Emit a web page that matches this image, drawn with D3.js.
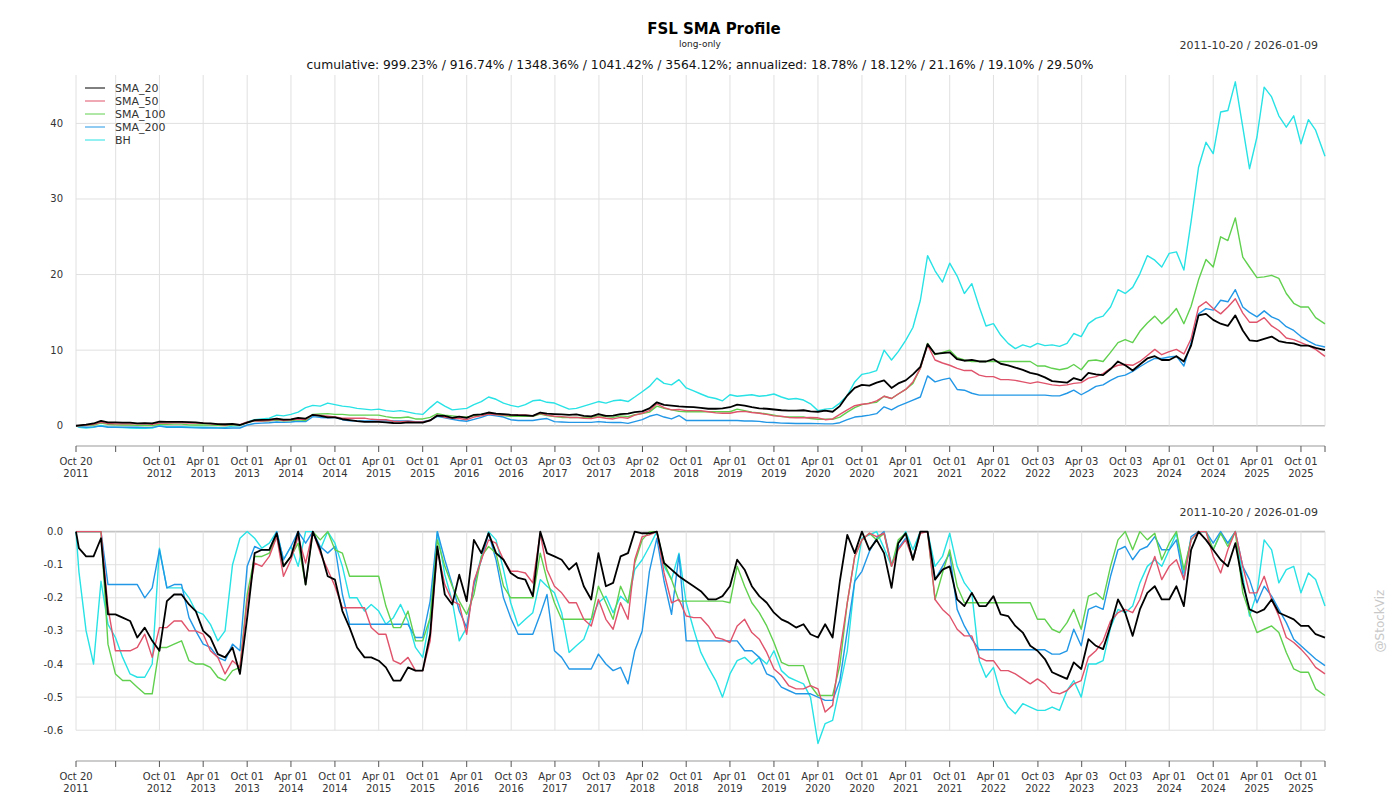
<!DOCTYPE html>
<html>
<head>
<meta charset="utf-8">
<title>FSL SMA Profile</title>
<script src="https://cdn.jsdelivr.net/npm/d3@7"></script>
<style>
  body { margin: 0; background: #fff; }
  svg { font-family: "DejaVu Sans", sans-serif; }
</style>
</head>
<body>
<div id="chart"></div>
<script>

// Series read off the reference, sampled monthly:
// 2011-10-20, then the 1st of each month Nov 2011 .. Dec 2025, then 2026-01-09

const seriesNames = ["SMA_20", "SMA_50", "SMA_100", "SMA_200", "BH"];

// cumulative return (1 = +100%)
const cumSMA20 = [
    0, 0.05, 0.15,
    0.3, 0.65, 0.45, 0.45, 0.42, 0.4, 0.3, 0.35, 0.3, 0.55, 0.5, 0.52,
    0.52, 0.48, 0.45, 0.35, 0.3, 0.22, 0.2, 0.25, 0.1, 0.4, 0.75, 0.78,
    0.82, 0.95, 0.8, 0.85, 1.05, 0.95, 1.45, 1.3, 1.1, 1.1, 0.86, 0.75,
    0.6, 0.52, 0.52, 0.5, 0.45, 0.36, 0.35, 0.45, 0.42, 0.42, 0.7, 1.35,
    1.3, 1.05, 1.2, 1.05, 1.45, 1.5, 1.75, 1.6, 1.55, 1.45, 1.4, 1.38,
    1.3, 1.75, 1.6, 1.55, 1.5, 1.45, 1.5, 1.3, 1.25, 1.55, 1.3, 1.35,
    1.55, 1.6, 1.8, 1.9, 2.3, 3.1, 2.75, 2.65, 2.55, 2.5, 2.45, 2.35,
    2.25, 2.25, 2.3, 2.45, 2.8, 2.65, 2.45, 2.3, 2.25, 2.15, 2.05, 2.0,
    2.0, 2.05, 1.9, 1.85, 2.0, 1.85, 2.6, 4.0, 5.0, 5.4, 5.3, 5.7,
    6.0, 5.0, 5.6, 6.0, 6.8, 7.8, 10.8, 9.5, 9.6, 9.7, 8.8, 8.6,
    8.7, 8.5, 8.5, 8.8, 8.2, 8.0, 7.7, 7.4, 7.0, 6.8, 6.4, 5.9,
    5.8, 5.7, 6.3, 6.0, 7.0, 6.8, 6.7, 7.5, 8.5, 8.0, 7.3, 8.1,
    8.9, 9.2, 8.7, 8.7, 9.2, 8.5, 10.6, 14.6, 14.8, 14.0, 13.5, 13.2,
    14.6, 12.6, 11.3, 11.2, 11.5, 11.8, 11.2, 11.0, 10.9, 10.6, 10.6, 10.3,
    9.99
];

const cumSMA50 = [
    0, 0, 0.1,
    0.2, 0.45, 0.3, 0.25, 0.25, 0.25, 0.25, 0.3, 0.2, 0.35, 0.35, 0.38,
    0.38, 0.35, 0.35, 0.33, 0.25, 0.2, 0.1, 0.18, 0.15, 0.5, 0.65, 0.62,
    0.7, 0.85, 0.7, 0.8, 0.9, 0.85, 1.45, 1.35, 1.25, 1.15, 1.0, 1.0,
    1.0, 1.0, 0.85, 0.8, 0.8, 0.6, 0.55, 0.6, 0.5, 0.5, 0.7, 1.4,
    1.1, 1.0, 0.95, 0.8, 1.15, 1.3, 1.55, 1.45, 1.4, 1.4, 1.42, 1.42,
    1.3, 1.65, 1.4, 1.25, 1.2, 1.1, 1.1, 1.0, 0.95, 1.15, 1.0, 0.9,
    1.1, 1.0, 1.4, 1.65, 2.0, 2.9, 2.4, 2.1, 2.15, 2.0, 2.0, 2.0,
    1.85, 1.7, 1.65, 1.65, 1.85, 1.9, 1.75, 1.65, 1.5, 1.3, 1.25, 1.1,
    1.05, 1.05, 1.1, 1.05, 0.8, 0.9, 1.5, 2.1, 2.65, 2.85, 2.95, 3.3,
    3.9, 3.6, 4.2, 4.8, 5.8, 7.6, 10.7, 8.7, 8.3, 8.0, 7.6, 7.3,
    7.3, 6.7, 6.5, 6.5, 6.1, 6.1, 6.0, 5.8, 5.6, 5.8, 5.6, 5.4,
    5.3, 5.4, 5.6, 5.7, 6.3, 6.5, 6.9, 7.6, 8.0, 8.1, 8.0, 8.5,
    9.3, 10.1, 9.4, 9.8, 10.1, 9.5, 11.5, 15.7, 16.4, 15.5, 14.8, 15.7,
    16.8, 14.9, 13.7, 13.7, 14.3, 13.2, 12.6, 11.6, 11.4, 11.0, 10.6, 10.1,
    9.17
];

const cumSMA100 = [
    0, 0, 0.05,
    0.1, 0.35, 0.2, 0.12, 0.1, 0.1, 0.05, 0.03, 0.02, 0.2, 0.2, 0.22,
    0.22, 0.12, 0.1, 0.1, 0.08, 0.05, 0.04, 0.08, 0.1, 0.45, 0.62, 0.62,
    0.65, 0.75, 0.65, 0.7, 0.8, 0.7, 1.5, 1.55, 1.6, 1.5, 1.5, 1.4,
    1.4, 1.4, 1.4, 1.4, 1.2, 1.05, 1.05, 1.15, 0.9, 0.9, 1.1, 1.6,
    1.4, 1.3, 1.2, 1.15, 1.3, 1.5, 1.65, 1.5, 1.35, 1.25, 1.25, 1.25,
    1.25, 1.55, 1.35, 1.2, 1.1, 1.1, 1.1, 1.1, 1.1, 1.3, 1.2, 1.1,
    1.3, 1.2, 1.45, 1.6, 1.8, 2.6, 2.3, 2.1, 1.9, 1.85, 1.85, 1.85,
    1.85, 1.85, 1.85, 1.85, 2.2, 2.0, 1.8, 1.7, 1.55, 1.4, 1.2, 1.15,
    1.15, 1.15, 0.95, 0.85, 0.85, 0.85, 1.15, 1.8, 2.4, 2.8, 3.0, 3.1,
    3.9, 3.6, 4.2, 4.8, 5.6, 7.6, 10.9, 9.4, 9.7, 10.0, 9.0, 8.7,
    8.5, 8.5, 8.5, 8.5, 8.5, 8.5, 8.5, 8.5, 8.5, 7.9, 7.9, 7.6,
    7.4, 7.6, 8.1, 7.4, 8.6, 8.7, 8.5, 9.7, 11.0, 11.4, 11.0, 12.5,
    13.6, 14.5, 13.5, 14.4, 15.5, 13.5, 15.8, 19.3, 22.0, 21.0, 25.0, 24.5,
    27.5, 22.3, 21.0, 19.6, 19.7, 19.9, 19.5, 17.5, 16.2, 15.7, 15.7, 14.3,
    13.48
];

const cumSMA200 = [
    0, -0.1, -0.2,
    -0.15, -0.05, -0.2, -0.2, -0.2, -0.2, -0.2, -0.25, -0.22, -0.05, -0.2, -0.18,
    -0.2, -0.25, -0.28, -0.3, -0.3, -0.32, -0.33, -0.3, -0.3, 0.1, 0.3, 0.35,
    0.4, 0.5, 0.45, 0.5, 0.6, 0.55, 1.2, 1.1, 1.05, 1.1, 0.8, 0.65,
    0.65, 0.65, 0.65, 0.65, 0.65, 0.65, 0.65, 0.65, 0.55, 0.55, 0.75, 1.25,
    1.05, 0.85, 0.7, 0.6, 0.85, 1.1, 1.45, 1.3, 1.15, 0.8, 0.7, 0.7,
    0.7, 0.85, 0.95, 0.55, 0.5, 0.45, 0.45, 0.45, 0.45, 0.55, 0.47, 0.42,
    0.45, 0.32, 0.55, 0.8, 1.25, 1.5, 1.15, 0.9, 1.35, 0.7, 0.7, 0.7,
    0.7, 0.7, 0.7, 0.7, 0.7, 0.63, 0.63, 0.58, 0.45, 0.43, 0.35, 0.33,
    0.3, 0.3, 0.3, 0.28, 0.25, 0.25, 0.4, 0.8, 1.15, 1.25, 1.4, 1.6,
    2.5, 2.1, 2.6, 3.0, 3.4, 3.8, 6.6, 5.8, 6.1, 6.3, 4.8, 4.7,
    4.3, 4.05, 4.05, 4.05, 4.05, 4.05, 4.05, 4.05, 4.05, 4.05, 4.05, 3.95,
    3.95, 4.3, 4.7, 4.1, 4.6, 5.2, 5.4, 6.0, 6.5, 6.7, 7.2, 7.8,
    8.4, 8.9, 8.9, 9.1, 9.2, 7.9, 11.0, 14.8, 15.5, 15.3, 16.6, 16.4,
    18.0, 15.7, 15.0, 14.4, 15.2, 14.4, 14.0, 13.1, 12.6, 11.8, 11.2, 10.7,
    10.41
];

const cumBH = [
    0, -0.2, -0.3,
    -0.2, 0.05, -0.15, -0.2, -0.25, -0.3, -0.35, -0.35, -0.3, 0.0, -0.12, -0.12,
    -0.12, -0.15, -0.2, -0.2, -0.22, -0.25, -0.25, -0.05, 0.0, 0.5, 0.8, 0.9,
    1.0, 1.4, 1.3, 1.5, 1.8, 2.4, 2.7, 2.6, 3.0, 2.8, 2.6, 2.5,
    2.3, 2.2, 2.1, 2.2, 2.0, 1.9, 2.0, 1.8, 1.6, 1.5, 2.4, 3.2,
    2.6, 2.1, 2.2, 2.3, 2.8, 3.2, 3.8, 3.5, 3.0, 2.7, 2.5, 2.8,
    3.3, 3.4, 3.1, 3.0, 2.6, 2.2, 2.3, 2.6, 2.9, 3.2, 3.0, 3.3,
    3.4, 3.2, 3.8, 4.5, 5.2, 6.3, 5.6, 5.4, 6.1, 5.0, 4.6, 4.2,
    3.8, 3.6, 3.3, 4.1, 3.9, 4.0, 4.1, 3.9, 4.0, 4.2, 3.8, 3.5,
    3.6, 3.4, 2.9, 2.0, 2.2, 2.3, 3.0, 4.0, 5.8, 6.8, 7.0, 7.3,
    10.0, 8.7, 9.8, 11.3, 13.0, 16.6, 22.5, 20.5, 19.0, 21.5, 19.8, 17.5,
    18.8, 15.7, 13.2, 13.5, 12.0, 10.9, 10.2, 10.7, 10.4, 10.9, 10.6, 10.7,
    10.5, 10.9, 12.2, 11.8, 13.5, 14.2, 14.5, 15.7, 18.0, 17.5, 18.3, 20.1,
    22.5, 21.9, 21.0, 22.8, 23.0, 20.6, 27.0, 34.2, 37.5, 36.0, 41.5, 41.7,
    45.5, 39.5, 34.0, 38.2, 44.8, 43.5, 41.0, 39.5, 41.0, 37.3, 40.5, 39.1,
    35.64
];

// drawdown from running peak
const ddSMA20 = [
    0, -0.05, -0.075,
    -0.075, -0.02, -0.25, -0.25, -0.26, -0.27, -0.32, -0.29, -0.33, -0.36, -0.21, -0.19,
    -0.19, -0.22, -0.24, -0.30, -0.32, -0.37, -0.38, -0.35, -0.43, -0.26, -0.065, -0.055,
    -0.055, -0.005, -0.105, -0.075, 0, -0.16, 0, -0.055, -0.135, -0.145, -0.24, -0.29,
    -0.35, -0.38, -0.38, -0.39, -0.41, -0.45, -0.45, -0.41, -0.42, -0.42, -0.31, -0.045,
    -0.19, -0.22, -0.13, -0.21, -0.025, -0.065, -0.005, -0.065, -0.085, -0.125, -0.14, -0.145,
    -0.195, 0, -0.065, -0.075, -0.085, -0.115, -0.095, -0.165, -0.205, -0.065, -0.165, -0.155,
    -0.075, -0.065, 0, -0.005, -0.005, 0, -0.095, -0.115, -0.135, -0.15, -0.165, -0.18,
    -0.205, -0.205, -0.195, -0.165, -0.085, -0.115, -0.165, -0.195, -0.215, -0.245, -0.265, -0.275,
    -0.29, -0.28, -0.31, -0.32, -0.28, -0.32, -0.15, -0.01, -0.065, 0, -0.055, -0.025,
    -0.065, -0.17, -0.035, -0.005, -0.085, 0, 0, -0.145, -0.115, -0.105, -0.205, -0.225,
    -0.185, -0.225, -0.225, -0.195, -0.25, -0.255, -0.285, -0.305, -0.345, -0.36, -0.385, -0.425,
    -0.435, -0.445, -0.395, -0.415, -0.325, -0.345, -0.355, -0.285, -0.205, -0.245, -0.315, -0.235,
    -0.185, -0.165, -0.205, -0.205, -0.165, -0.225, -0.055, 0, -0.025, -0.055, -0.085, -0.105,
    -0.035, -0.155, -0.235, -0.245, -0.235, -0.205, -0.245, -0.255, -0.265, -0.285, -0.285, -0.31,
    -0.32
];

const ddSMA50 = [
    0, 0, 0,
    0, 0, -0.23, -0.36, -0.36, -0.36, -0.35, -0.31, -0.38, -0.29, -0.29, -0.27,
    -0.27, -0.30, -0.30, -0.31, -0.36, -0.38, -0.43, -0.39, -0.41, -0.21, -0.095, -0.105,
    -0.075, -0.015, -0.135, -0.085, -0.015, -0.095, 0, -0.065, -0.115, -0.165, -0.23, -0.23,
    -0.23, -0.23, -0.29, -0.31, -0.31, -0.39, -0.40, -0.38, -0.42, -0.42, -0.33, -0.055,
    -0.16, -0.21, -0.22, -0.31, -0.15, -0.085, -0.025, -0.035, -0.085, -0.12, -0.12, -0.125,
    -0.155, -0.005, -0.115, -0.165, -0.185, -0.215, -0.215, -0.265, -0.285, -0.205, -0.265, -0.295,
    -0.215, -0.265, -0.085, -0.015, -0.01, 0, -0.125, -0.215, -0.205, -0.255, -0.26, -0.26,
    -0.285, -0.32, -0.325, -0.335, -0.285, -0.265, -0.305, -0.325, -0.365, -0.415, -0.435, -0.465,
    -0.475, -0.475, -0.465, -0.475, -0.545, -0.525, -0.365, -0.215, -0.075, -0.025, -0.005, -0.015,
    -0.005, -0.105, -0.055, -0.025, -0.085, -0.005, 0, -0.205, -0.235, -0.255, -0.295, -0.315,
    -0.315, -0.38, -0.39, -0.39, -0.42, -0.42, -0.43, -0.445, -0.46, -0.445, -0.46, -0.485,
    -0.49, -0.48, -0.46, -0.45, -0.38, -0.36, -0.33, -0.27, -0.245, -0.235, -0.245, -0.205,
    -0.135, -0.075, -0.145, -0.105, -0.085, -0.145, -0.025, 0, 0, -0.075, -0.125, -0.055,
    0, -0.105, -0.185, -0.185, -0.135, -0.205, -0.255, -0.32, -0.335, -0.355, -0.38, -0.41,
    -0.43
];

const ddSMA100 = [
    0, 0, 0,
    0, 0, -0.34, -0.43, -0.45, -0.45, -0.47, -0.49, -0.49, -0.35, -0.35, -0.34,
    -0.33, -0.39, -0.40, -0.40, -0.41, -0.44, -0.45, -0.42, -0.41, -0.19, -0.075, -0.075,
    -0.065, -0.015, -0.105, -0.075, -0.035, -0.16, 0, -0.025, 0, -0.055, -0.065, -0.135,
    -0.135, -0.135, -0.135, -0.135, -0.225, -0.29, -0.29, -0.24, -0.33, -0.33, -0.26, -0.025,
    -0.105, -0.165, -0.21, -0.25, -0.19, -0.075, -0.045, -0.065, -0.165, -0.20, -0.20, -0.20,
    -0.20, -0.065, -0.145, -0.215, -0.265, -0.265, -0.265, -0.265, -0.265, -0.165, -0.215, -0.265,
    -0.165, -0.215, -0.095, -0.025, 0, 0, -0.095, -0.145, -0.21, -0.21, -0.21, -0.21,
    -0.21, -0.21, -0.21, -0.215, -0.105, -0.165, -0.215, -0.245, -0.285, -0.335, -0.395, -0.405,
    -0.405, -0.405, -0.465, -0.495, -0.495, -0.495, -0.405, -0.215, -0.075, -0.025, -0.005, -0.025,
    -0.005, -0.105, -0.025, -0.005, -0.085, 0, 0, -0.205, -0.125, -0.055, -0.165, -0.215,
    -0.215, -0.215, -0.215, -0.215, -0.215, -0.215, -0.215, -0.215, -0.215, -0.265, -0.265, -0.295,
    -0.305, -0.275, -0.235, -0.295, -0.195, -0.185, -0.205, -0.105, -0.025, 0, -0.055, 0,
    -0.025, -0.005, -0.085, -0.035, 0, -0.115, -0.025, 0, 0, -0.055, -0.005, -0.045,
    0, -0.185, -0.245, -0.305, -0.295, -0.285, -0.305, -0.365, -0.415, -0.425, -0.425, -0.475,
    -0.495
];

const ddSMA200 = [
    0, 0, 0,
    0, 0, -0.16, -0.16, -0.16, -0.16, -0.16, -0.20, -0.17, -0.055, -0.17, -0.16,
    -0.16, -0.26, -0.30, -0.34, -0.35, -0.38, -0.39, -0.34, -0.36, -0.105, -0.045, -0.055,
    -0.055, 0, -0.085, -0.045, 0, -0.035, 0, -0.045, -0.065, -0.045, -0.19, -0.28,
    -0.28, -0.28, -0.28, -0.28, -0.28, -0.28, -0.28, -0.28, -0.32, -0.32, -0.21, 0,
    -0.085, -0.16, -0.24, -0.29, -0.16, -0.085, -0.005, -0.085, -0.20, -0.26, -0.31, -0.31,
    -0.31, -0.25, -0.19, -0.36, -0.38, -0.415, -0.415, -0.415, -0.415, -0.37, -0.40, -0.42,
    -0.41, -0.46, -0.36, -0.30, -0.12, -0.02, -0.15, -0.25, -0.07, -0.33, -0.33, -0.33,
    -0.33, -0.33, -0.33, -0.33, -0.33, -0.36, -0.36, -0.38, -0.43, -0.44, -0.47, -0.48,
    -0.49, -0.49, -0.49, -0.50, -0.51, -0.51, -0.45, -0.30, -0.15, -0.12, -0.06, -0.02,
    0, -0.10, -0.05, -0.02, -0.08, 0, 0, -0.145, -0.105, -0.065, -0.235, -0.285,
    -0.325, -0.357, -0.357, -0.357, -0.357, -0.357, -0.357, -0.357, -0.357, -0.357, -0.357, -0.37,
    -0.37, -0.36, -0.295, -0.345, -0.235, -0.225, -0.235, -0.135, -0.055, -0.045, -0.085, -0.055,
    -0.045, -0.015, -0.055, -0.055, -0.025, -0.145, -0.015, 0, 0, -0.035, 0, -0.035,
    0, -0.105, -0.145, -0.215, -0.165, -0.195, -0.235, -0.275, -0.325, -0.345, -0.365, -0.385,
    -0.405
];

const ddBH = [
    0, -0.12, -0.30,
    -0.40, -0.15, -0.28, -0.32, -0.38, -0.43, -0.44, -0.44, -0.40, -0.05, -0.17, -0.17,
    -0.17, -0.20, -0.24, -0.25, -0.28, -0.33, -0.30, -0.10, -0.02, 0, -0.02, -0.05,
    -0.035, 0, -0.085, -0.045, -0.105, 0, 0, -0.055, 0, -0.035, -0.105, -0.20,
    -0.20, -0.24, -0.22, -0.24, -0.28, -0.26, -0.22, -0.27, -0.35, -0.38, -0.26, 0,
    -0.13, -0.21, -0.33, -0.29, -0.16, -0.075, 0, -0.025, -0.115, -0.215, -0.285, -0.265,
    -0.245, -0.145, -0.165, -0.185, -0.245, -0.365, -0.345, -0.325, -0.265, -0.215, -0.195, -0.245,
    -0.195, -0.215, -0.115, -0.085, -0.045, 0, -0.105, -0.145, -0.065, -0.215, -0.295, -0.365,
    -0.41, -0.45, -0.50, -0.43, -0.39, -0.38, -0.40, -0.38, -0.40, -0.36, -0.42, -0.44,
    -0.45, -0.46, -0.50, -0.64, -0.58, -0.57, -0.47, -0.36, -0.15, -0.02, -0.01, 0,
    -0.05, -0.105, -0.035, 0, -0.055, 0, 0, -0.105, -0.075, -0.005, -0.105, -0.155,
    -0.185, -0.39, -0.44, -0.41, -0.49, -0.53, -0.55, -0.52, -0.53, -0.54, -0.54, -0.53,
    -0.54, -0.48, -0.45, -0.50, -0.40, -0.40, -0.39, -0.29, -0.235, -0.245, -0.225, -0.155,
    -0.105, -0.085, -0.105, -0.055, -0.005, -0.125, -0.025, 0, 0, -0.055, -0.005, -0.035,
    0, -0.135, -0.255, -0.185, -0.025, -0.055, -0.155, -0.115, -0.105, -0.185, -0.125, -0.145,
    -0.225
];

// x axis ticks as printed on the reference (blank = tick without label)
const tickDates = ["2011-10-20", "2012-04-02", "2012-10-01", "2013-04-01", "2013-10-01",
    "2014-04-01", "2014-10-01", "2015-04-01", "2015-10-01", "2016-04-01", "2016-10-03",
    "2017-04-03", "2017-10-03", "2018-04-02", "2018-10-01", "2019-04-01", "2019-10-01",
    "2020-04-01", "2020-10-01", "2021-04-01", "2021-10-01", "2022-04-01", "2022-10-03",
    "2023-04-03", "2023-10-03", "2024-04-01", "2024-10-01", "2025-04-01", "2025-10-01",
    "2026-01-09"];
const tickLabels = ["Oct 20|2011", "", "Oct 01|2012", "Apr 01|2013", "Oct 01|2013",
    "Apr 01|2014", "Oct 01|2014", "Apr 01|2015", "Oct 01|2015", "Apr 01|2016", "Oct 03|2016",
    "Apr 03|2017", "Oct 03|2017", "Apr 02|2018", "Oct 01|2018", "Apr 01|2019", "Oct 01|2019",
    "Apr 01|2020", "Oct 01|2020", "Apr 01|2021", "Oct 01|2021", "Apr 01|2022", "Oct 03|2022",
    "Apr 03|2023", "Oct 03|2023", "Apr 01|2024", "Oct 01|2024", "Apr 01|2025", "Oct 01|2025",
    ""];

const cumTicks = [0, 10, 20, 30, 40];
const ddTicks = [0, -0.1, -0.2, -0.3, -0.4, -0.5, -0.6];

const titleText = "FSL SMA Profile";
const subTitleText = "long-only";
const rangeText = "2011-10-20 / 2026-01-09";
const statsText = "cumulative: 999.23% / 916.74% / 1348.36% / 1041.42% / 3564.12%; " +
    "annualized: 18.78% / 18.12% / 21.16% / 19.10% / 29.50%";

// styling
const colours = ["#000000", "#DF536B", "#61D04F", "#2297E6", "#28E2E5"];
const lineWidths = [1.8, 1.4, 1.4, 1.4, 1.4];

const parseDay = d3.timeParse("%Y-%m-%d");
const dates = [parseDay("2011-10-20")]
    .concat(d3.timeMonth.range(new Date(2011, 10, 1), new Date(2026, 0, 1)))
    .concat([parseDay("2026-01-09")]);

const cumSeries = [cumSMA20, cumSMA50, cumSMA100, cumSMA200, cumBH];
const ddSeries = [ddSMA20, ddSMA50, ddSMA100, ddSMA200, ddBH];

const width = 1400, height = 800;
const left = 76, right = 1325;

const svg = d3.select("#chart").append("svg")
    .attr("width", width)
    .attr("height", height);

const x = d3.scaleTime()
    .domain([dates[0], dates[dates.length - 1]])
    .range([left, right]);

const yCum = d3.scaleLinear().domain([-2.68, 46.4]).range([446, 75]);
const yDd = d3.scaleLinear().domain([-0.693, 0]).range([761, 531.6]);

function drawPanel(y, ticks, tickFmt, series, top, gridBottom, axisY) {
    const g = svg.append("g");

    // horizontal grid
    g.selectAll(".hgrid")
        .data(ticks)
        .enter().append("line")
        .attr("x1", left).attr("x2", right)
        .attr("y1", (d) => y(d)).attr("y2", (d) => y(d))
        .attr("stroke", (d) => d === 0 ? "#c4c4c4" : "#e0e0e0")
        .attr("stroke-width", (d) => d === 0 ? 1.6 : 1);

    // vertical grid
    g.selectAll(".vgrid")
        .data(tickDates)
        .enter().append("line")
        .attr("x1", (d) => x(parseDay(d))).attr("x2", (d) => x(parseDay(d)))
        .attr("y1", top).attr("y2", gridBottom)
        .attr("stroke", "#e0e0e0")
        .attr("stroke-width", 1);

    // y labels
    g.selectAll(".ylab")
        .data(ticks)
        .enter().append("text")
        .attr("x", 63)
        .attr("y", (d) => y(d))
        .attr("dy", "0.35em")
        .attr("text-anchor", "end")
        .attr("font-size", "10px")
        .attr("fill", "#333")
        .text(tickFmt);

    // x axis
    g.append("line")
        .attr("x1", left).attr("x2", right)
        .attr("y1", axisY).attr("y2", axisY)
        .attr("stroke", "#999").attr("stroke-width", 1.2);

    g.selectAll(".xtick")
        .data(tickDates)
        .enter().append("line")
        .attr("x1", (d) => x(parseDay(d))).attr("x2", (d) => x(parseDay(d)))
        .attr("y1", axisY).attr("y2", axisY + 6)
        .attr("stroke", "#555").attr("stroke-width", 1);

    const lab = g.selectAll(".xlab")
        .data(tickDates)
        .enter().append("text")
        .attr("text-anchor", "middle")
        .attr("font-size", "10px")
        .attr("fill", "#333")
        .attr("transform", (d) => "translate(" + x(parseDay(d)) + "," + axisY + ")");
    lab.append("tspan").attr("x", 0).attr("y", 19)
        .text((d, i) => tickLabels[i].split("|")[0] || "");
    lab.append("tspan").attr("x", 0).attr("y", 31)
        .text((d, i) => tickLabels[i].split("|")[1] || "");

    // series, BH first so SMA_20 ends up on top
    const line = d3.line()
        .x((d) => x(d[0]))
        .y((d) => y(d[1]));

    const order = d3.range(series.length).reverse();
    g.selectAll(".series")
        .data(order)
        .enter().append("path")
        .attr("d", (k) => line(d3.zip(dates, series[k])))
        .attr("fill", "none")
        .attr("stroke", (k) => colours[k])
        .attr("stroke-width", (k) => lineWidths[k])
        .attr("stroke-linejoin", "round");
}

drawPanel(yCum, cumTicks, (d) => d, cumSeries, 75, yCum(0), 446);
drawPanel(yDd, ddTicks, (d) => d3.format(".1f")(d).replace("−", "-"), ddSeries, yDd(0), yDd(-0.6), 761);

// titles
svg.append("text")
    .attr("x", 714).attr("y", 34)
    .attr("text-anchor", "middle")
    .attr("font-size", "15px").attr("font-weight", "bold")
    .text(titleText);

svg.append("text")
    .attr("x", 700).attr("y", 47)
    .attr("text-anchor", "middle")
    .attr("font-size", "9px").attr("fill", "#222")
    .text(subTitleText);

svg.append("text")
    .attr("x", 1318).attr("y", 49)
    .attr("text-anchor", "end")
    .attr("font-size", "11px").attr("fill", "#333")
    .text(rangeText);

svg.append("text")
    .attr("x", 700).attr("y", 69)
    .attr("text-anchor", "middle")
    .attr("font-size", "12.3px").attr("fill", "#111")
    .text(statsText);

svg.append("text")
    .attr("x", 1318).attr("y", 516)
    .attr("text-anchor", "end")
    .attr("font-size", "11px").attr("fill", "#333")
    .text(rangeText);

svg.append("text")
    .attr("transform", "translate(1384,621) rotate(-90)")
    .attr("text-anchor", "middle")
    .attr("font-size", "12px").attr("fill", "#c8c8c8")
    .text("@StockViz");

// legend
const legend = svg.append("g")
    .selectAll(".leg")
    .data(seriesNames)
    .enter().append("g")
    .attr("transform", (d, i) => "translate(0," + (88 + 13 * i) + ")");

legend.append("line")
    .attr("x1", 85).attr("x2", 105)
    .attr("stroke", (d, i) => colours[i])
    .attr("stroke-width", 1);

legend.append("text")
    .attr("x", 115).attr("y", 4)
    .attr("font-size", "11px").attr("fill", "#333")
    .text((d) => d);

</script>
</body>
</html>
